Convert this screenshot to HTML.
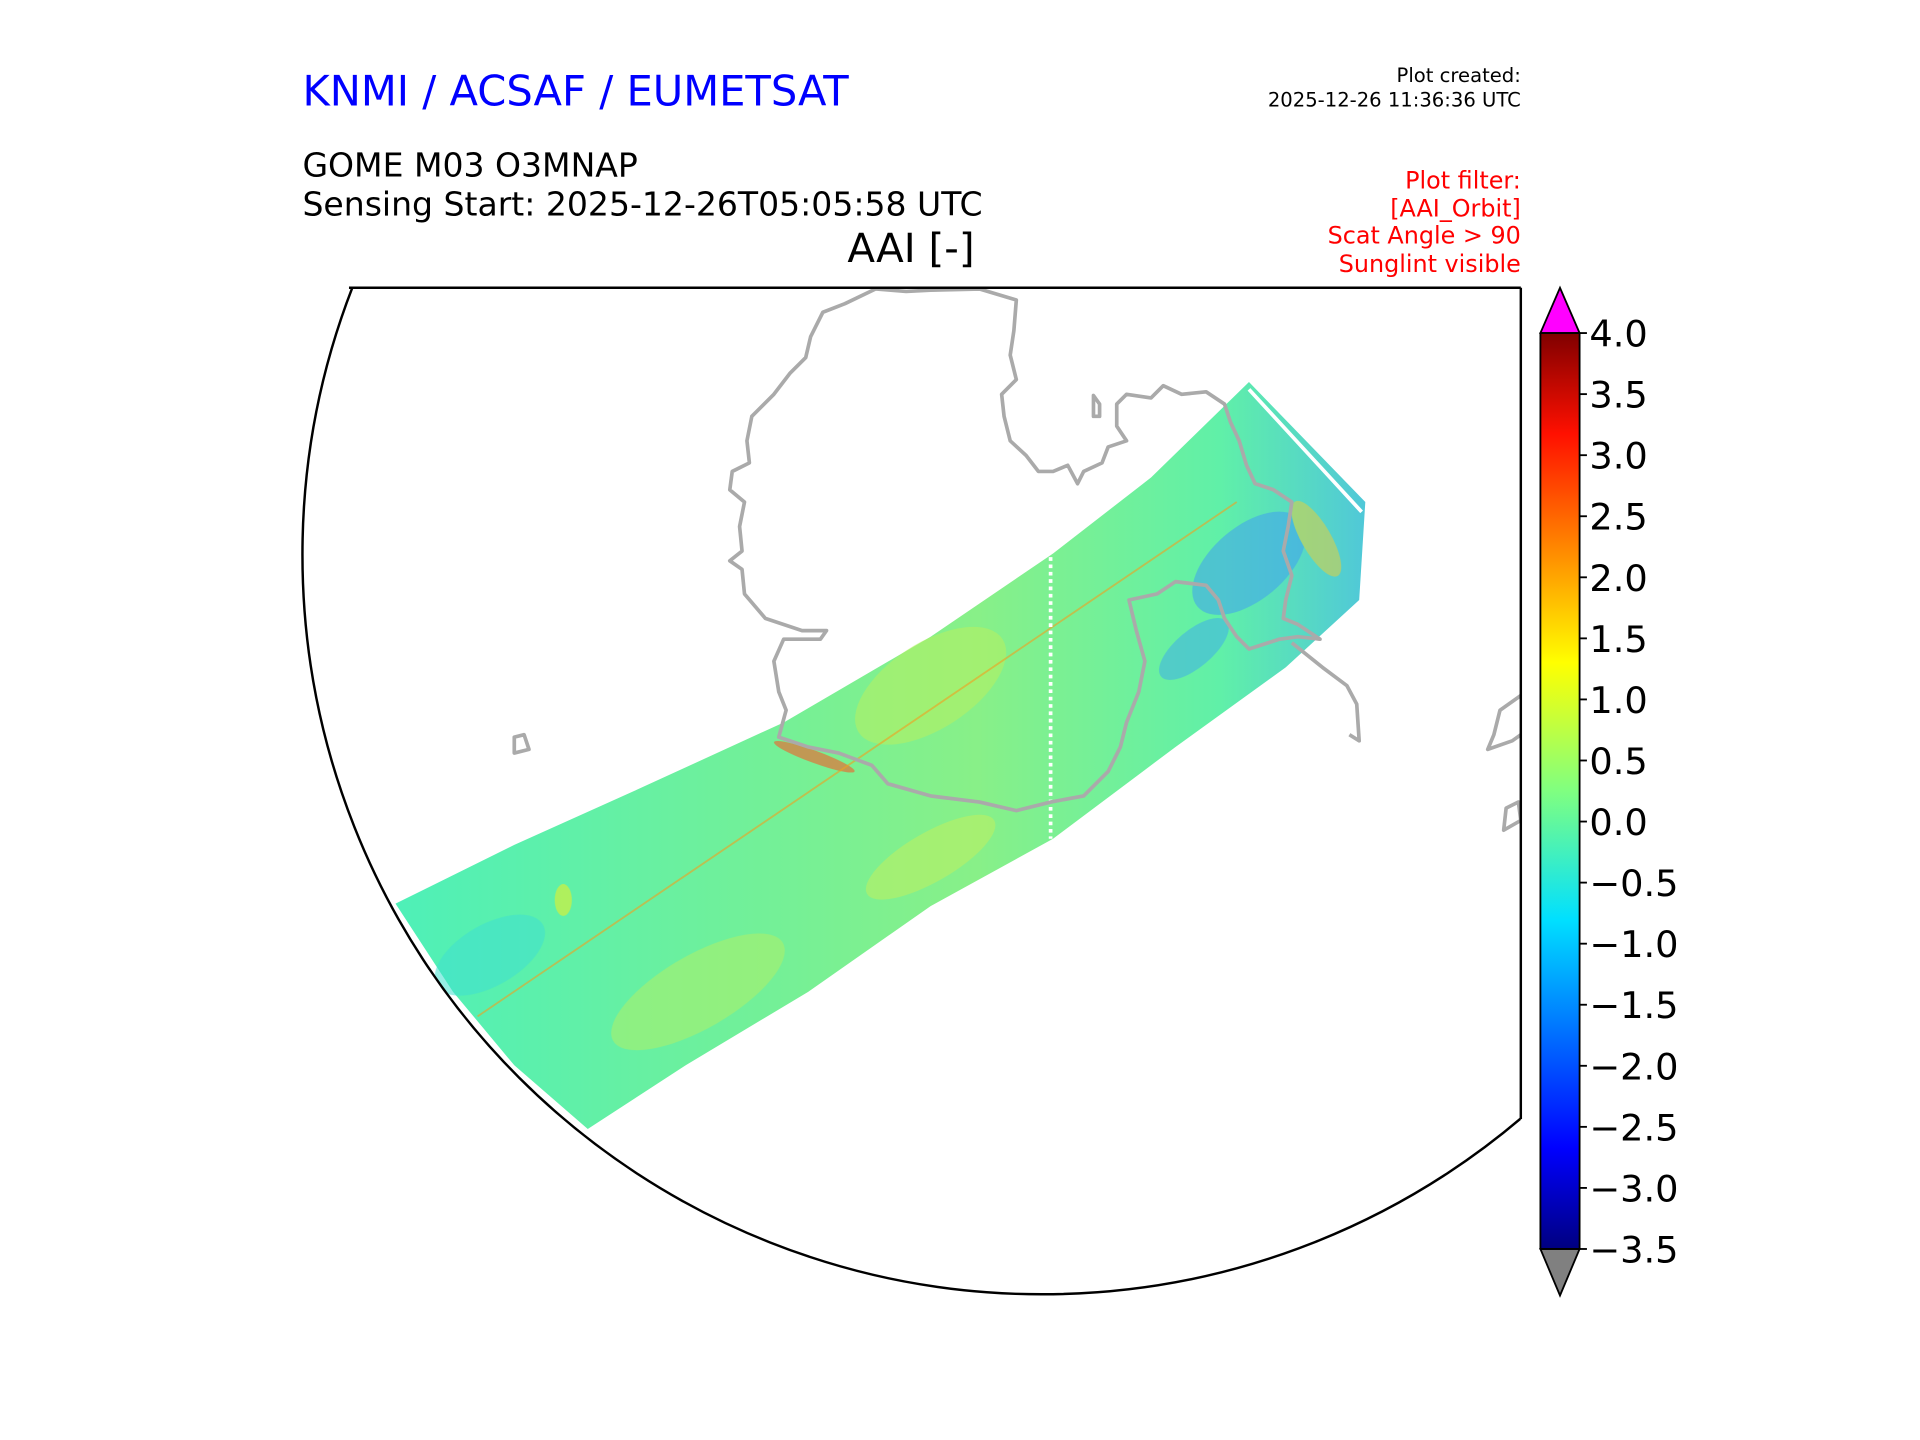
<!DOCTYPE html>
<html><head><meta charset="utf-8"><style>
html,body{margin:0;padding:0;background:#fff;}
svg{display:block;font-family:"DejaVu Sans","Liberation Sans",sans-serif;}
</style></head><body>
<svg id="fig" width="1920" height="1440" viewBox="0 0 1568 1176" xmlns="http://www.w3.org/2000/svg">
<defs>
<clipPath id="rectclip"><rect x="200" y="235" width="1042" height="900"/></clipPath>
<clipPath id="circclip"><circle cx="851" cy="453" r="604"/></clipPath>
<linearGradient id="jet" x1="0" y1="1" x2="0" y2="0">
<stop offset="0" stop-color="#000080"/><stop offset="0.11" stop-color="#0000ff"/>
<stop offset="0.36" stop-color="#00e0ff"/><stop offset="0.5" stop-color="#80ff80"/>
<stop offset="0.64" stop-color="#ffff00"/><stop offset="0.89" stop-color="#ff1000"/>
<stop offset="1" stop-color="#800000"/></linearGradient>
<linearGradient id="swg" x1="0" y1="0" x2="1" y2="0">
<stop offset="0" stop-color="#4ef0b8"/><stop offset="0.35" stop-color="#70f09a"/>
<stop offset="0.6" stop-color="#88f088"/><stop offset="0.85" stop-color="#60f0a8"/>
<stop offset="1" stop-color="#50c8d8"/></linearGradient>
</defs>
<text x="247" y="86" font-size="34" fill="#0000ff">KNMI / ACSAF / EUMETSAT</text>
<text x="1242" y="67" font-size="16" text-anchor="end">Plot created:</text>
<text x="1242" y="87" font-size="16" text-anchor="end">2025-12-26 11:36:36 UTC</text>
<text x="247" y="144" font-size="27">GOME M03 O3MNAP</text>
<text x="247" y="176" font-size="27">Sensing Start: 2025-12-26T05:05:58 UTC</text>
<text x="744" y="214" font-size="33" text-anchor="middle">AAI [-]</text>
<g fill="#ff0000" font-size="19.5" text-anchor="end">
<text x="1242" y="154">Plot filter:</text><text x="1242" y="177">[AAI_Orbit]</text>
<text x="1242" y="199">Scat Angle &gt; 90</text><text x="1242" y="222">Sunglint visible</text></g>

<g clip-path="url(#rectclip)">
<g clip-path="url(#circclip)">
<path fill="url(#swg)" d="M323,738 L420,690 L520,645 L640,590 L760,520 L860,452 L940,390 L1020,312 L1115,410 L1110,490 L1050,545 L960,610 L860,685 L760,740 L660,810 L560,870 L480,922 L420,870 L370,810 Z"/>
<g opacity="0.55">
<ellipse cx="760" cy="560" rx="70" ry="35" fill="#b8f060" transform="rotate(-33 760 560)"/>
<ellipse cx="570" cy="810" rx="80" ry="30" fill="#b0f068" transform="rotate(-30 570 810)"/>
<ellipse cx="760" cy="700" rx="60" ry="20" fill="#c0f060" transform="rotate(-30 760 700)"/>
<ellipse cx="460" cy="735" rx="7" ry="13" fill="#f0f020"/>
<ellipse cx="400" cy="780" rx="50" ry="25" fill="#40e0d0" transform="rotate(-30 400 780)"/>
<ellipse cx="1020" cy="460" rx="55" ry="30" fill="#40a0f0" transform="rotate(-40 1020 460)"/>
<ellipse cx="975" cy="530" rx="35" ry="15" fill="#40b0e8" transform="rotate(-40 975 530)"/>
<ellipse cx="1075" cy="440" rx="35" ry="12" fill="#e0d040" transform="rotate(60 1075 440)"/>
<ellipse cx="665" cy="618" rx="35" ry="5" fill="#ff5020" transform="rotate(20 665 618)"/>
</g>
<line x1="390" y1="830" x2="1010" y2="410" stroke="#f0a020" stroke-width="1.5" opacity="0.6"/>
<line x1="858" y1="455" x2="858" y2="685" stroke="#fff" stroke-width="3" stroke-dasharray="3,3"/>
<line x1="1020" y1="318" x2="1112" y2="418" stroke="#fff" stroke-width="3"/>
<g fill="none" stroke="#aaaaaa" stroke-width="3" stroke-linejoin="round">
<path d="M715,236 L690,248 L672,255 L662,275 L658,292 L645,305 L632,322 L614,340 L610,360 L612,378 L598,385 L596,400 L608,410 L604,430 L606,450 L596,458 L606,465 L608,485 L625,505 L655,515 L675,515 L670,522 L640,522 L632,540 L636,565 L642,580 L636,602 L660,610 L685,615 L712,625 L725,640 L760,650 L800,655 L830,662 L858,655 L885,650 L905,630 L915,610 L920,590 L930,565 L935,540 L928,515 L922,490 L945,485 L960,475 L985,478 L995,490 L1000,505 L1010,520 L1020,530 L1045,522 L1060,520 L1078,522 L1060,510 L1048,505 L1050,490 L1055,470 L1048,450 L1052,430 L1055,410 L1040,400 L1025,395 L1018,380 L1012,360 L1005,345 L1000,330 L985,320 L965,322 L950,315 L940,325 L920,322 L912,330 L912,348 L920,360 L905,365 L900,378 L885,385 L880,395 L872,380 L860,385 L848,385 L838,372 L825,360 L820,340 L818,322 L830,310 L825,290 L828,270 L830,245 L800,236 L760,237 L740,238 Z"/>
<path d="M893,323 L898,330 L898,340 L893,340 Z"/>
<path d="M1055,525 L1080,545 L1100,560 L1108,575 L1110,605 L1102,600"/>
<path d="M420,602 L428,600 L432,612 L420,615 Z"/>
<path d="M1242,568 L1225,580 L1220,600 L1215,612 L1235,605 L1242,600"/>
<path d="M1230,660 L1240,655 L1242,670 L1228,678 Z"/>
</g>
</g>
<circle cx="851" cy="453" r="604" fill="none" stroke="#000" stroke-width="2"/>
</g>
<line x1="285" y1="235" x2="1242" y2="235" stroke="#000" stroke-width="2"/>
<line x1="1242" y1="235" x2="1242" y2="914" stroke="#000" stroke-width="2"/>

<g id="cbar">
<rect x="1258" y="272" width="32" height="748" fill="url(#jet)"/>
<polygon points="1258,272 1290,272 1274,235" fill="#ff00ff" stroke="#000" stroke-width="1.5"/>
<polygon points="1258,1020 1290,1020 1274,1058" fill="#808080" stroke="#000" stroke-width="1.5"/>
<rect x="1258" y="272" width="32" height="748" fill="none" stroke="#000" stroke-width="1.5"/>
</g>
<script>
const ticks=[4.0,3.5,3.0,2.5,2.0,1.5,1.0,0.5,0.0,-0.5,-1.0,-1.5,-2.0,-2.5,-3.0,-3.5];
const vmin=-3.5, vmax=4.0;
const y0=1020, y1=272;
function yScale(v){return y0+(v-vmin)/(vmax-vmin)*(y1-y0);}
const g=document.getElementById('cbar');
const ns='http://www.w3.org/2000/svg';
for(const t of ticks){
  const y=yScale(t);
  const ln=document.createElementNS(ns,'line');
  ln.setAttribute('x1',1290);ln.setAttribute('x2',1296);ln.setAttribute('y1',y);ln.setAttribute('y2',y);
  ln.setAttribute('stroke','#000');ln.setAttribute('stroke-width','1.5');
  
  
  g.appendChild(ln);
  const tx=document.createElementNS(ns,'text');
  tx.setAttribute('x',1298);tx.setAttribute('y',y+11);tx.setAttribute('font-size','30');
  tx.textContent=(t<0?'\u2212':'')+Math.abs(t).toFixed(1);
  
  
  g.appendChild(tx);
}
</script>
</svg>
</body></html>
